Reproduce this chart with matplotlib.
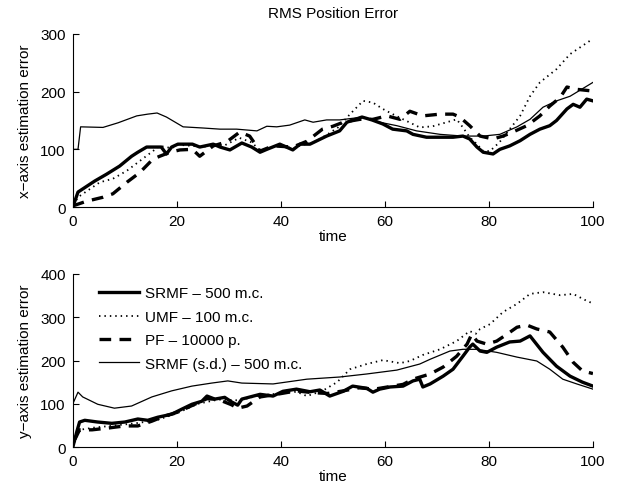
import matplotlib
matplotlib.use("Agg")
import matplotlib.pyplot as plt

plt.rcParams["font.family"] = ["Liberation Sans", "DejaVu Sans"]
plt.rcParams["font.size"] = 11

# ---- x-axis error (top panel) ----
tx_srmf = [0, 1, 4.2, 6.5, 9, 11.3, 12.5, 14.2, 17, 18, 19, 20.2, 23, 24.4, 27, 28.3, 30.2,
           32.5, 34.4, 36, 37.3, 39.8, 42.3, 43.7, 45.6, 48.8, 51.3, 52.7, 55.6, 57.5, 59.6,
           61.5, 64.2, 65.4, 68, 70.6, 73.1, 75, 76.3, 77.7, 78.9, 80.8, 82.1, 84, 86, 87.9,
           89.8, 91.7, 93, 95, 96.2, 97.5, 98.8, 100]
x_srmf = [0, 26, 45, 57, 71, 88, 95, 104, 104, 92, 104, 109, 109, 104, 109, 104, 99,
          111, 104, 95, 100, 109, 99, 109, 109, 123, 132, 147, 156, 151, 144,
          135, 132, 126, 121, 121, 121, 123, 118, 104, 95, 92, 100, 106, 115, 126,
          135, 141, 150, 170, 178, 173, 187, 184]

tx_umf = [0, 1.3, 5.2, 7.7, 10.4, 12.9, 15.4, 16.7, 19, 20.2, 23, 25, 27, 29, 32, 34.4,
          36, 38, 40, 42.3, 44, 46, 48.8, 51, 53.3, 55.8, 57.7, 59.6, 61.5, 64.2, 66.7,
          69.2, 71.9, 73.8, 75, 76.3, 77.7, 78.9, 80.2, 82, 84, 86, 87.9, 89.8, 93, 95.6,
          99.4, 100]
x_umf = [5, 19, 43, 49, 63, 80, 97, 106, 102, 108, 106, 104, 108, 106, 120, 112,
         98, 103, 108, 101, 108, 110, 125, 138, 161, 184, 181, 170, 161, 149, 138,
         140, 147, 152, 138, 121, 109, 97, 97, 112, 135, 158, 192, 216, 239, 265,
         288, 290]

tx_pf = [0, 2.6, 5.8, 7.7, 10.4, 12.9, 15.4, 16.7, 18.7, 20.6, 23, 24.4, 27, 29.6, 32.1,
         34, 36, 38.5, 42.3, 45, 48, 50, 52, 55.2, 57.7, 60.4, 62.9, 64.8, 67.3, 70.6,
         73.1, 74.4, 76.3, 78.3, 80.8, 82.7, 84.6, 87.3, 89.8, 91.7, 93.7, 95, 96.9, 100]
x_pf = [2, 10, 17, 23, 43, 60, 83, 88, 95, 99, 100, 88, 106, 113, 130,
        123, 97, 106, 104, 114, 135, 140, 147, 152, 152, 158, 152, 166, 158, 161,
        161, 156, 141, 123, 118, 123, 130, 141, 158, 175, 190, 208, 204, 201]

tx_sd = [0, 1, 1.5, 5.8, 8.7, 12.3, 14.4, 16.2, 18, 21.2, 25, 28.3, 31.5, 35.4, 37.3,
         39.2, 41.7, 44.6, 46.2, 48.8, 51.3, 55.8, 59, 62.3, 66.1, 70.6, 75, 78.9, 82.1,
         85.4, 87.9, 90.4, 93, 95.6, 100]
x_sd = [100, 100, 139, 138, 146, 158, 161, 163, 156, 139, 137, 135, 135, 132, 140,
        139, 142, 151, 147, 151, 151, 156, 147, 141, 132, 126, 123, 123, 126,
        139, 152, 173, 184, 192, 216]

# ---- y-axis error (bottom panel) ----
ty_srmf = [0, 0.8, 1.3, 2.3, 4.8, 7.5, 10, 12.5, 14.4, 16.3, 19, 21, 22.9, 24.8, 25.8,
           27.3, 29.2, 30.6, 31.7, 32.5, 36, 38.5, 40.4, 43, 45.6, 47.5, 49.4, 52, 53.8,
           56.5, 57.7, 59, 61, 63.5, 65.4, 66.7, 67.3, 68.7, 71.2, 73.1, 75, 76.3, 76.9,
           78.3, 79.6, 81.5, 84, 86, 87.9, 90.4, 93, 95.6, 98, 100]
y_srmf = [0, 37, 58, 62, 58, 55, 58, 65, 62, 69, 76, 88, 99, 106, 118,
          111, 115, 104, 97, 111, 122, 118, 129, 134, 128, 132, 118, 129, 141,
          136, 127, 134, 139, 141, 153, 157, 139, 146, 164, 180, 210, 231, 238,
          222, 219, 231, 243, 245, 257, 219, 187, 164, 150, 141]

ty_umf = [0, 1.3, 4, 8, 12, 16, 20, 24, 28, 32, 36, 40, 43, 45, 48, 50.8, 53.3, 56.5,
          59.6, 62.9, 64.8, 67.3, 70.6, 73.8, 76.3, 77.5, 78.3, 80.2, 82.7, 85.4, 87.9,
          90.4, 93.7, 96.2, 98.8, 100]
y_umf = [0, 40, 45, 50, 55, 62, 78, 100, 110, 108, 120, 124, 128, 118, 130, 150, 180, 192,
         201, 194, 199, 213, 226, 245, 268, 262, 273, 284, 312, 331, 354,
         358, 351, 354, 338, 332]

ty_pf = [0.4, 1.3, 3.7, 6.7, 10, 12.5, 15.2, 17.7, 20.2, 22.9, 25.8, 28, 30.5, 31.7,
         33.5, 36, 39.2, 43, 46, 49, 52, 55, 58, 61, 63.5, 65.4, 68.7, 71.2, 73.8, 75.8,
         76.7, 77.7, 79.6, 81.5, 83.5, 85.4, 87.3, 89.2, 91.7, 94.2, 96.2, 98, 100]
y_pf = [18, 40, 40, 44, 49, 49, 60, 72, 81, 96, 112, 110, 98, 90,
        95, 116, 122, 130, 126, 124, 130, 137, 134, 140, 145, 157, 169, 185, 210, 238,
        261, 245, 238, 245, 261, 277, 282, 273, 266, 231, 196, 176, 170]

ty_sd = [0, 1, 1.9, 4.8, 8, 11.3, 15.2, 19, 22.9, 26.7, 29.8, 32.5, 38.5, 45, 51.3,
         56.5, 62.3, 66.7, 68.7, 72.5, 75, 77.7, 81.5, 85.4, 89.2, 91.7, 94.2, 96.9, 100]
y_sd = [100, 127, 116, 99, 90, 95, 116, 130, 141, 148, 153, 148, 146, 157, 162,
        169, 178, 192, 203, 222, 226, 226, 219, 208, 199, 180, 157, 146, 134]

labels = ["SRMF \u2013 500 m.c.", "UMF \u2013 100 m.c.", "PF \u2013 10000 p.",
          "SRMF (s.d.) \u2013 500 m.c."]

fig = plt.figure(figsize=(6.17, 4.85), dpi=100)
ax1 = fig.add_axes([0.118, 0.571, 0.843, 0.357])
ax2 = fig.add_axes([0.118, 0.076, 0.843, 0.357])

thick = dict(color="black", lw=2.4)
dash = dict(color="black", lw=2.4, linestyle=(0, (3.5, 2.5)))
dots = dict(color="black", lw=1.3, linestyle=(0, (0.8, 2.2)))
thin = dict(color="black", lw=0.9)

for ax, data in [
    (ax1, [(tx_srmf, x_srmf), (tx_umf, x_umf), (tx_pf, x_pf), (tx_sd, x_sd)]),
    (ax2, [(ty_srmf, y_srmf), (ty_umf, y_umf), (ty_pf, y_pf), (ty_sd, y_sd)]),
]:
    for (t, v), style, lab in zip(data, [thick, dots, dash, thin], labels):
        ax.plot(t, v, label=lab, **style)
    ax.set_xlim(0, 100)
    ax.set_xticks(range(0, 101, 20))
    ax.set_xlabel("time", labelpad=1)
    ax.spines["top"].set_visible(False)
    ax.spines["right"].set_visible(False)
    ax.tick_params(direction="in", length=4, width=0.8, pad=5)

ax1.set_ylim(0, 300)
ax1.set_yticks([0, 100, 200, 300])
ax1.set_ylabel("x\u2212axis estimation error", labelpad=6)
ax1.set_title("RMS Position Error", fontsize=11, pad=12)

ax2.set_ylim(0, 400)
ax2.set_yticks([0, 100, 200, 300, 400])
ax2.set_ylabel("y\u2212axis estimation error", labelpad=6)
ax2.legend(loc="upper left", frameon=False, handlelength=2.6, handletextpad=0.4,
           labelspacing=0.62, borderaxespad=0.3, bbox_to_anchor=(0.03, 0.99))

fig.savefig("out.png", dpi=100)
